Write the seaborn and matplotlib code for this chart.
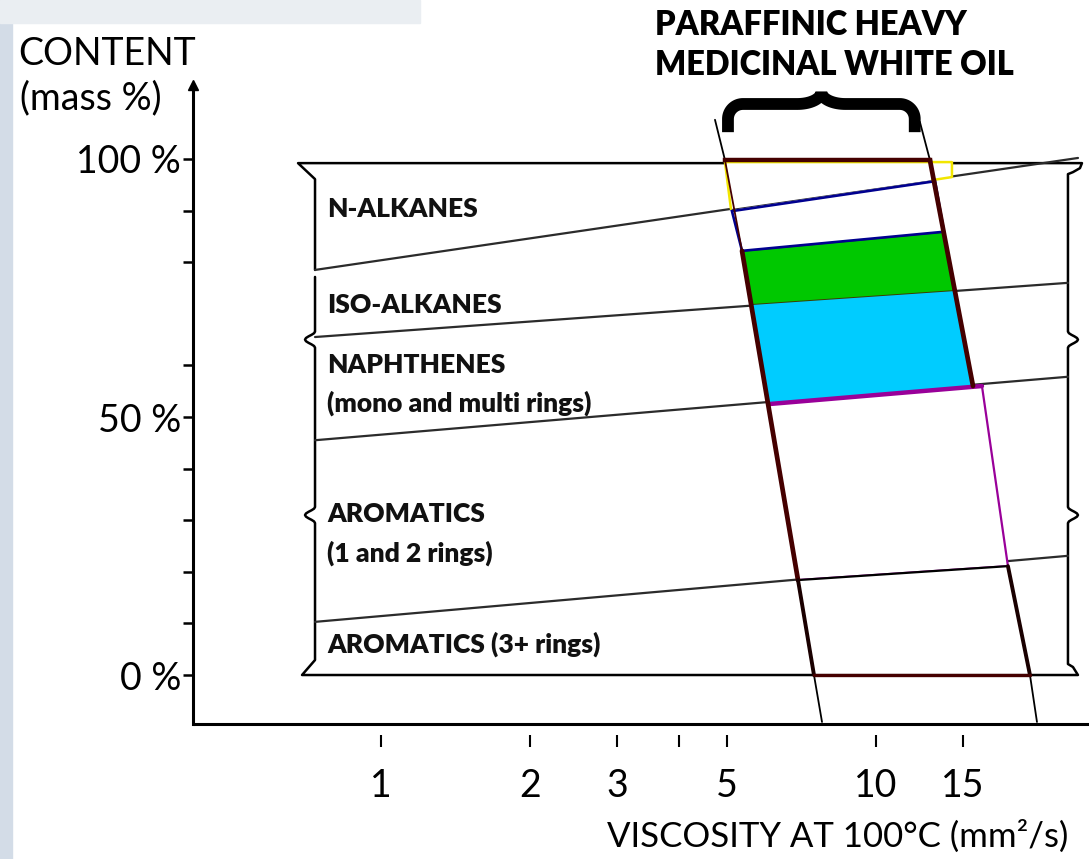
import numpy as np
import matplotlib
matplotlib.use("Agg")
import matplotlib.pyplot as plt
import seaborn as sns
from matplotlib.ticker import NullLocator
from matplotlib.patches import Rectangle

# ---------------- data ----------------
y_ticks = [0, 10, 20, 30, 40, 50, 60, 80, 90, 100]
y_tick_text = ['0 %', '', '', '', '', '50 %', '', '', '', '100 %']
x_ticks = [1, 2, 3, 4, 5, 10, 15]
x_tick_text = ['1', '2', '3', '', '5', '10', '15']

# schematic composition box (viscosity mm2/s, content mass %)
box_visc = [0.7356, 24.49]
box_top_pct = 99.2
box_bottom_pct = 0.0
boundary_left_pct = [78.5, 65.5, 45.5, 10.3]
boundary_right_pct = [100.2, 76.0, 57.8, 23.1]
boundary_right_visc = [25.66, 24.49, 24.49, 24.49]
nub_pct = [65.0, 31.0]

band_labels = ['N-ALKANES', 'ISO-ALKANES', 'NAPHTHENES', '(mono and multi rings)',
               'AROMATICS', '(1 and 2 rings)', 'AROMATICS (3+ rings)']
band_label_pct = [88.8, 70.2, 58.5, 51.0, 29.7, 21.9, 4.3]
band_label_visc = 0.778

# product zones (paraffinic heavy medicinal white oil)
yellow_visc = [5.100, 4.960, 14.27, 14.27, 13.00]
yellow_pct = [90.3, 99.4, 99.4, 96.5, 95.9]
blue_visc = [5.124, 13.19, 13.75, 5.370]
blue_pct = [89.9, 95.7, 85.9, 82.2]
green_visc = [5.370, 13.75, 14.41, 5.612]
green_pct = [82.2, 85.9, 74.4, 71.7]
cyan_visc = [5.612, 14.41, 15.74, 6.073]
cyan_pct = [71.7, 74.4, 56.0, 52.5]
purple_visc = [6.073, 16.41, 18.52, 6.969]
purple_pct = [52.5, 56.0, 21.1, 18.4]
black_visc = [6.969, 18.52, 20.52, 7.507]
black_pct = [18.4, 21.1, 0.0, 0.0]

# product limit lines
left_limit_visc = [4.735, 4.960, 5.370, 6.969, 7.507, 7.793]
left_limit_pct = [107.6, 99.8, 82.2, 18.4, 0.0, -9.1]
right_limit_visc = [12.29, 12.88, 15.74]
right_limit_pct = [107.2, 99.8, 56.0]
right_lower_visc = [18.52, 20.52, 21.20]
right_lower_pct = [21.1, 0.0, -9.1]
frame_top_visc = [4.960, 12.88]
frame_top_pct = [99.8, 99.8]

brace_visc = [5.03, 12.0]
brace_pct = [105.2, 113.0]
axis_line_pct = -9.5

# ---------------- figure ----------------
sns.set_theme(style='white')
plt.rcParams['font.family'] = ['Lato', 'DejaVu Sans']

W, H = 1089, 859
fig = plt.figure(figsize=(W / 100, H / 100), dpi=100)
fig.patch.set_facecolor('white')
fig.patches.append(Rectangle((0, 0), 12 / W, 1, transform=fig.transFigure,
                             color='#d3dce7', zorder=-10))
fig.patches.append(Rectangle((0, 1 - 23 / H), 420 / W, 23 / H, transform=fig.transFigure,
                             color='#eaeef2', zorder=-10))

ax = fig.add_axes([193 / W, 1 - 747 / H, (1089 - 193) / W, (747 - 85) / H])
ax.set_facecolor('none')
ax.set_xscale('log')
ax.set_xlim(0.4168, 27.01)
ax.set_ylim(-13.95, 114.34)

for s in ['top', 'right', 'bottom']:
    ax.spines[s].set_visible(False)
ax.spines['left'].set_color('black')
ax.spines['left'].set_linewidth(2.2)
ax.spines['left'].set_bounds(axis_line_pct, 114.34)
ax.axhline(axis_line_pct, color='black', lw=2.2, zorder=1)
ax.plot([0], [1], marker='^', ms=7, color='black', transform=ax.transAxes, clip_on=False)

ax.set_xticks(x_ticks, labels=x_tick_text)
ax.xaxis.set_minor_locator(NullLocator())
ax.set_yticks(y_ticks, labels=y_tick_text)
ax.tick_params(axis='x', bottom=True, direction='in', length=8.6, width=1.5, pad=15,
               labelsize=27, colors='black')
ax.tick_params(axis='y', left=True, direction='out', length=7.2, width=1.8, pad=1.5,
               labelsize=27, colors='black')
ax.grid(False)

T = ax.transData
Ti = T.inverted()


def D(v, p):
    return T.transform((v, p))


# ---- box outline with brace nubs ----
x0 = D(box_visc[0], 50)[0]
x1 = D(box_visc[1], 50)[0]
yt = D(1, box_top_pct)[1]
yb = D(1, box_bottom_pct)[1]
yb1 = D(1, boundary_left_pct[0])[1]
nub_y = [D(1, p)[1] for p in nub_pct]


def nub(x, yc, sign, down, depth=10, half=8, n=11):
    t = np.linspace(-1, 1, n)
    ys = yc + (-t if down else t) * half
    xs = x + sign * depth * (0.5 + 0.5 * np.cos(np.pi * t))
    return list(zip(xs, ys))


pts = [(x0, yb1), (x0, yt - 16), (x0 - 17, yt),
       (x1 + 14, yt), (x1 + 12, yt - 5), (x1 + 5, yt - 9), (x1, yt - 11)]
for yc in sorted(nub_y, reverse=True):
    pts += [(x1, yc + 9)] + nub(x1, yc, +1, True) + [(x1, yc - 9)]
pts += [(x1, yb + 11), (x1 + 5, yb + 8), (x1 + 10, yb), (x0 - 13, yb), (x0, yb + 15)]
for yc in sorted(nub_y):
    pts += [(x0, yc - 9)] + nub(x0, yc, -1, False) + [(x0, yc + 9)]
pts += [(x0, yb1 - 7)]
outline = Ti.transform(np.array(pts))
ax.plot(outline[:, 0], outline[:, 1], color='black', lw=1.8, solid_joinstyle='round', zorder=2)

# ---- band boundaries ----
for i in range(len(boundary_left_pct)):
    sns.lineplot(x=[box_visc[0], boundary_right_visc[i]],
                 y=[boundary_left_pct[i], boundary_right_pct[i]],
                 ax=ax, color='#2b2b2b', lw=1.6, zorder=2, legend=False)

# ---- product limit thin lines ----
ax.plot(left_limit_visc, left_limit_pct, color='black', lw=1.3, zorder=2)
ax.plot(right_limit_visc, right_limit_pct, color='black', lw=1.3, zorder=2)
ax.plot(right_lower_visc, right_lower_pct, color='black', lw=1.3, zorder=2)

# ---- product zones ----
ax.fill(yellow_visc, yellow_pct, facecolor='white', edgecolor='none', zorder=3)
ax.plot(yellow_visc, yellow_pct, color='#f2e600', lw=1.8, zorder=3.5)
ax.fill(blue_visc, blue_pct, facecolor='white', edgecolor='#00008f', lw=1.9, zorder=4)
ax.fill(green_visc, green_pct, facecolor='#00c800', edgecolor='#3d3d00', lw=1.4, zorder=3)
ax.fill(cyan_visc, cyan_pct, facecolor='#00ccff', edgecolor='none', zorder=3)
ax.fill(purple_visc, purple_pct, facecolor='white', edgecolor='#990099', lw=1.6, zorder=3)
ax.fill(black_visc, black_pct, facecolor='white', edgecolor='black', lw=1.6, zorder=3)
ax.plot(cyan_visc[3:] + purple_visc[1:2], cyan_pct[3:] + purple_pct[1:2],
        color='#990099', lw=3.2, zorder=4)

# ---- dark frame ----
brown = '#450000'
ax.plot(frame_top_visc, frame_top_pct, color=brown, lw=3.2, zorder=5, solid_capstyle='projecting')
ax.plot(left_limit_visc[1:3], left_limit_pct[1:3], color=brown, lw=1.3, zorder=5)
ax.plot(left_limit_visc[2:4], left_limit_pct[2:4], color=brown, lw=3.4, zorder=5)
ax.plot(left_limit_visc[3:5], left_limit_pct[3:5], color='#1a0000', lw=2.8, zorder=5)
ax.plot(right_limit_visc[1:3], right_limit_pct[1:3], color=brown, lw=3.4, zorder=5)
ax.plot(right_lower_visc[0:2], right_lower_pct[0:2], color='#1a0000', lw=2.8, zorder=5)
ax.plot(black_visc[2:4], black_pct[2:4], color=brown, lw=2.4, zorder=5)

# ---- curly brace over the product range ----
xl, ybase = D(brace_visc[0], brace_pct[0])
xr = D(brace_visc[1], brace_pct[0])[0]
ytip = D(1, brace_pct[1])[1]
xc = (xl + xr) / 2
ym = ybase + 0.70 * (ytip - ybase)
r, r2 = 15, 24
a = np.linspace(np.pi, np.pi / 2, 20)
arc1 = np.c_[xl + r + r * np.cos(a), ym - r + r * np.sin(a)]
b = np.linspace(-np.pi / 2, 0, 20)
arc2 = np.c_[xc - r2 + r2 * np.cos(b), ytip + (ytip - ym) * np.sin(b)]
half = np.vstack([[xl, ybase], arc1, arc2])
mirror = half[::-1].copy()
mirror[:, 0] = 2 * xc - mirror[:, 0]
brace = Ti.transform(np.vstack([half, mirror]))
ax.plot(brace[:, 0], brace[:, 1], color='black', lw=8.5, solid_capstyle='butt',
        solid_joinstyle='miter', clip_on=False, zorder=6)

# ---- labels ----
for lab, p in zip(band_labels, band_label_pct):
    ax.text(band_label_visc, p, lab, fontsize=19, fontweight='heavy', color='#111111',
            ha='left', va='baseline', zorder=6)

fig.text(655 / W, 1 - 35 / H, 'PARAFFINIC HEAVY', fontsize=23.5, fontweight='heavy',
         color='black', ha='left', va='baseline')
fig.text(655 / W, 1 - 75 / H, 'MEDICINAL WHITE OIL', fontsize=23.5, fontweight='heavy',
         color='black', ha='left', va='baseline')
fig.text(18 / W, 1 - 65 / H, 'CONTENT', fontsize=27, color='black', ha='left', va='baseline')
fig.text(20 / W, 1 - 109 / H, '(mass %)', fontsize=27, color='black', ha='left', va='baseline')
fig.text(607 / W, 1 - 847 / H, 'VISCOSITY AT 100°C (mm²/s)', fontsize=25, color='black',
         ha='left', va='baseline')

fig.savefig('out.png', dpi=100)
